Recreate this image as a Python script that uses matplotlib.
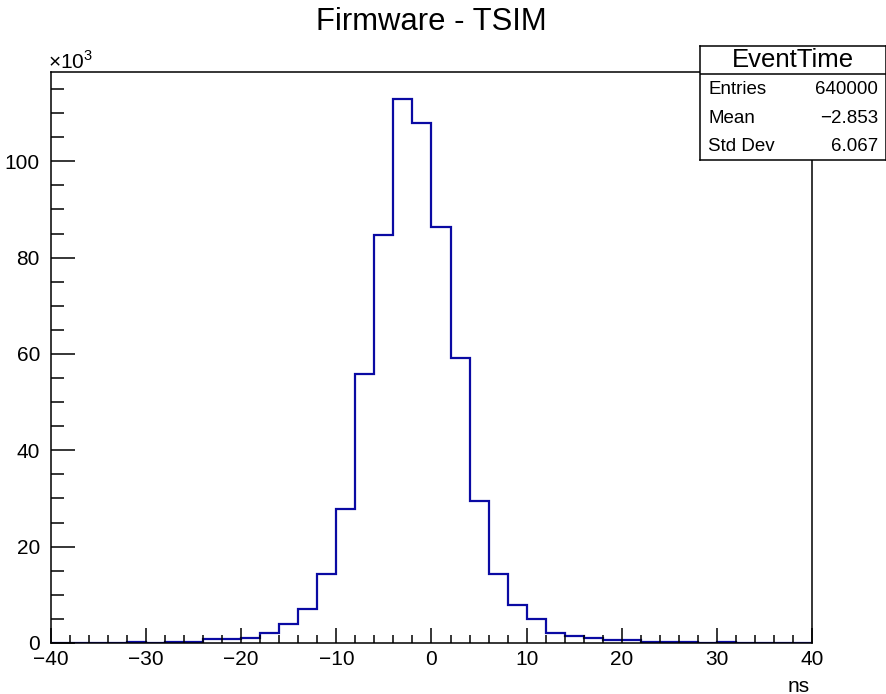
import numpy as np
import matplotlib
matplotlib.use("Agg")
import matplotlib.pyplot as plt
from matplotlib.ticker import MultipleLocator, FuncFormatter

plt.rcParams['font.family'] = ['Liberation Sans', 'DejaVu Sans']
plt.rcParams['mathtext.fontset'] = 'custom'
plt.rcParams['mathtext.rm'] = 'Liberation Sans'

# histogram EventTime, 2 ns bins from -40 to 40 (counts in thousands)
bin_edges = np.arange(-40, 42, 2)
counts_k = [
    0, 0, 0, 0, 0.25, 0, 0.25, 0.25, 0.9, 0.9,
    1.0, 2.1, 3.85, 7.1, 14.4, 27.8, 55.8, 84.7, 113.0, 107.9,
    86.3, 59.1, 29.4, 14.4, 7.9, 4.9, 2.1, 1.55, 1.1, 0.72,
    0.72, 0.25, 0.25, 0.25, 0, 0.2, 0, 0, 0, 0,
]
counts = np.array(counts_k) * 1000

title = "Firmware - TSIM"
stat_name = "EventTime"
stat_labels = ["Entries", "Mean", "Std Dev"]
stat_values = ["640000", "\u22122.853", "6.067"]

W, H = 887, 694
fig = plt.figure(figsize=(W / 100, H / 100), dpi=100)
ax = fig.add_axes([51 / W, 1 - 643 / H, (812 - 51) / W, (643 - 71.5) / H])

ax.stairs(counts, bin_edges, color='#0a0aa3', linewidth=1.6)

ax.set_xlim(-40, 40)
ax.set_ylim(0, counts.max() * 1.05)

ax.xaxis.set_major_locator(MultipleLocator(10))
ax.xaxis.set_minor_locator(MultipleLocator(2))
ax.yaxis.set_major_locator(MultipleLocator(20000))
ax.yaxis.set_minor_locator(MultipleLocator(5000))
ax.yaxis.set_major_formatter(FuncFormatter(lambda v, p: f"{v / 1000:g}"))

ax.tick_params(axis='x', which='major', direction='in', length=11, width=1.1,
               labelsize=15, pad=5)
ax.tick_params(axis='x', which='minor', direction='in', length=5.5, width=1.1)
ax.tick_params(axis='y', which='major', direction='in', length=17, width=1.1,
               labelsize=15, pad=8)
ax.tick_params(axis='y', which='minor', direction='in', length=9, width=1.1)
for s in ax.spines.values():
    s.set_linewidth(1.1)

fig.text(48 / W, 1 - 62 / H, r'$\times10^{3}$', fontsize=15, ha='left', va='center')
fig.text(810 / W, 1 - 686 / H, 'ns', fontsize=15, ha='right', va='center')
fig.text(431 / W, 1 - 22 / H, title, fontsize=22.3, ha='center', va='center')

# stats box
box = fig.add_axes([700 / W, 1 - 160 / H, 186 / W, 114 / H])
box.set_xlim(0, 1)
box.set_ylim(0, 1)
box.set_xticks([])
box.set_yticks([])
box.set_facecolor('white')
for s in box.spines.values():
    s.set_linewidth(1.1)
box.axhline((160 - 74) / 114, color='black', linewidth=1.1)
box.text(0.5, 0.875, stat_name, fontsize=18.5, ha='center', va='center')
for i, (lab, val) in enumerate(zip(stat_labels, stat_values)):
    yy = [0.615, 0.36, 0.12][i]
    box.text(0.045, yy, lab, fontsize=13.5, ha='left', va='center')
    box.text(0.957, yy, val, fontsize=13.5, ha='right', va='center')

fig.savefig("out.png", dpi=100)
